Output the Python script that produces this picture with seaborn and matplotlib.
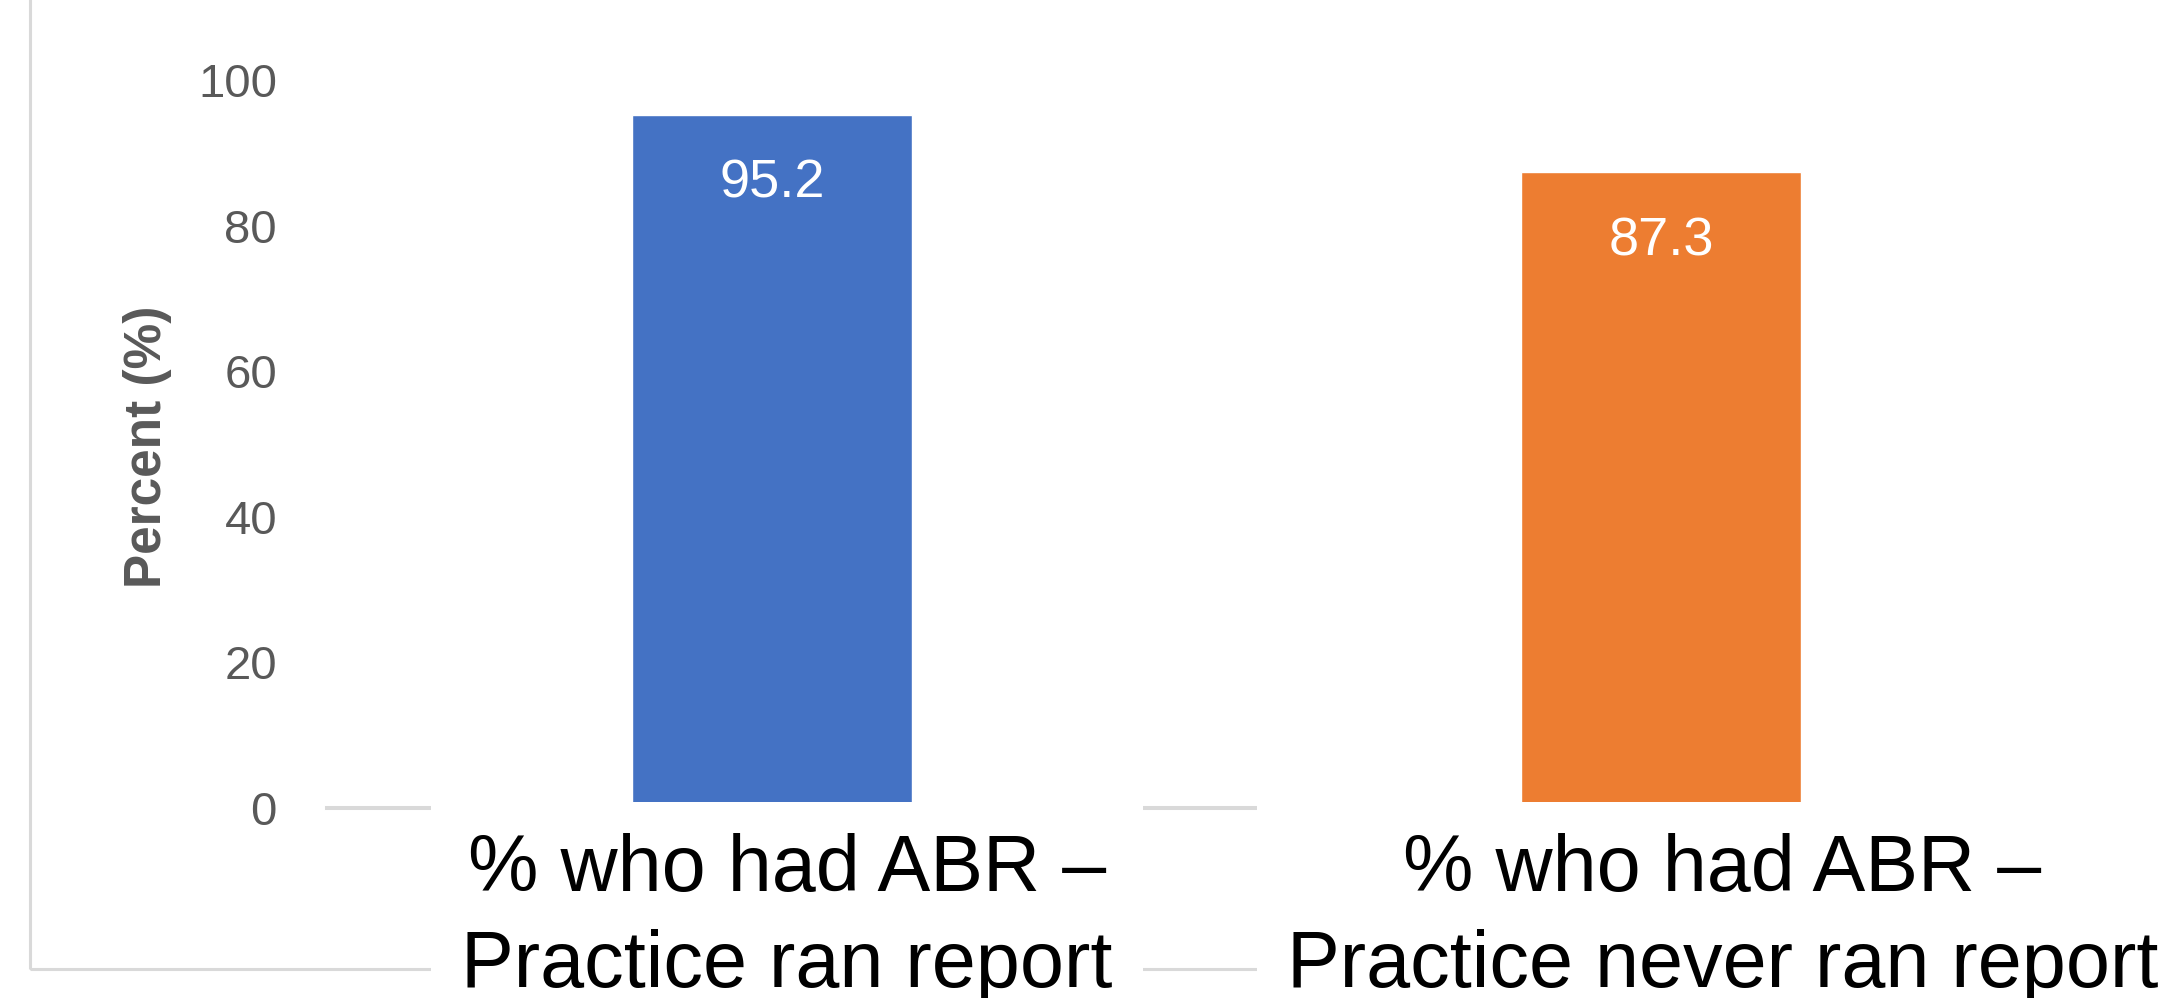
import matplotlib
matplotlib.use("Agg")
import matplotlib.pyplot as plt
import seaborn as sns
import pandas as pd
from matplotlib.patches import Rectangle

# ---- data ----
categories = ["% who had ABR –\nPractice ran report",
              "% who had ABR –\nPractice never ran report"]
values = [95.2, 87.3]
bar_colors = ["#4472C4", "#ED7D31"]
y_ticks = [0, 20, 40, 60, 80, 100]
y_label = "Percent (%)"

sns.set_style("white")
plt.rcParams["font.family"] = ["Liberation Sans", "DejaVu Sans"]

W, H, DPI = 2164, 998, 100
fig = plt.figure(figsize=(W / DPI, H / DPI), dpi=DPI)
fig.patch.set_facecolor("white")

# axes placement (pixels -> figure fraction)
ax_l, ax_r, ax_b, ax_t = 327, 2106, 808, 80
ax = fig.add_axes([ax_l / W, 1 - ax_b / H, (ax_r - ax_l) / W, (ax_b - ax_t) / H])
ax.patch.set_alpha(0)

df = pd.DataFrame({"cat": categories, "val": values})
sns.barplot(data=df, x="cat", y="val", hue="cat", palette=bar_colors,
            saturation=1, width=0.315, legend=False, ax=ax, zorder=2)

ax.set_xlim(-0.5, 1.5)
ax.set_ylim(0, 100)
ax.set_yticks(y_ticks)
ax.set_yticklabels([str(t) for t in y_ticks])
ax.set_xticks([])
ax.set_xlabel("")
ax.tick_params(axis="y", length=0, pad=36, labelsize=34, labelcolor="#595959")

ax.set_ylabel(y_label, fontsize=37, fontweight="bold", color="#595959")
ax.yaxis.set_label_coords((172 - ax_l) / (ax_r - ax_l), (ax_b - 447) / (ax_b - ax_t))

for s in ["left", "top", "right"]:
    ax.spines[s].set_visible(False)
ax.spines["bottom"].set_color("#d9d9d9")
ax.spines["bottom"].set_linewidth(2.9)
ax.spines["bottom"].set_zorder(1)

# value labels inside bars
for i, v in enumerate(values):
    ax.annotate(f"{v}", xy=(i, v), xytext=(0, -49.7), textcoords="offset points",
                ha="center", va="center", color="white", fontsize=39, zorder=4)

# category labels (large, white boxes); last-line baseline placed below axis
label_dx = [10.8, 44.0]
for i, c in enumerate(categories):
    ax.annotate(c, xy=(i, 0), xycoords=("data", "axes fraction"),
                xytext=(label_dx[i], -128.9), textcoords="offset points",
                ha="center", va="baseline", multialignment="center",
                fontsize=57, linespacing=1.37, color="black",
                bbox=dict(boxstyle="square,pad=0.38", fc="white", ec="none"),
                annotation_clip=False, zorder=6)

# chart-area frame (only left and bottom edges inside the picture)
frame = Rectangle((30 / W, 1 - 969 / H), 2, 2, transform=fig.transFigure,
                  fill=False, ec="#d9d9d9", lw=2.2, zorder=-1)
fig.add_artist(frame)

fig.savefig("out.png", dpi=DPI)
